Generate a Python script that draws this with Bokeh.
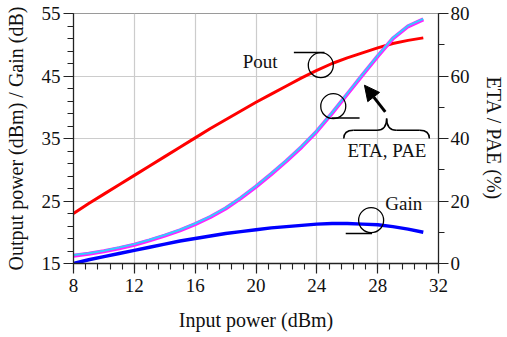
from bokeh.plotting import figure
from bokeh.models import (Range1d, LinearAxis, FixedTicker, Arrow, NormalHead,
                          Label, ColumnDataSource)
from bokeh.embed import file_html
from bokeh.resources import INLINE

# ---- data ----
pin = [8, 9, 10, 11, 12, 13, 14, 15, 16, 17, 18, 19, 20, 21, 22, 23, 24, 25, 26, 27, 28, 29, 30, 31]
pout = [23.0, 24.6, 26.1, 27.6, 29.1, 30.6, 32.1, 33.6, 35.1, 36.6, 38.0, 39.4, 40.8, 42.1, 43.4, 44.7,
        45.9, 47.0, 47.9, 48.7, 49.5, 50.2, 50.7, 51.1]
gain = [15.0, 15.6, 16.1, 16.6, 17.1, 17.6, 18.1, 18.6, 19.0, 19.4, 19.8, 20.1, 20.4, 20.7, 20.9, 21.1,
        21.3, 21.4, 21.4, 21.3, 21.2, 20.9, 20.5, 20.0]
eta = [2.7, 3.3, 4.1, 5.1, 6.2, 7.6, 9.1, 10.8, 12.8, 15.1, 17.8, 21.1, 24.8, 28.8, 33.0, 37.5,
       42.5, 48.3, 54.4, 60.5, 66.5, 72.2, 76.1, 78.3]
pae = [2.5, 3.1, 3.9, 4.9, 6.0, 7.4, 8.9, 10.6, 12.6, 14.9, 17.6, 20.9, 24.6, 28.6, 32.8, 37.3,
       42.3, 48.1, 54.2, 60.3, 66.3, 72.0, 75.9, 78.1]

x_ticks = [8, 12, 16, 20, 24, 28, 32]
y_ticks = [15, 25, 35, 45, 55]
r_ticks = [0, 20, 40, 60, 80]

FONT = "Liberation Serif"

p = figure(width=507, height=337, output_backend="svg", toolbar_location=None,
           x_range=Range1d(8, 32), y_range=Range1d(15, 55))
p.extra_y_ranges = {"pct": Range1d(0, 80)}
p.min_border_left = 73
p.min_border_right = 64
p.min_border_top = 13
p.min_border_bottom = 74
p.outline_line_color = "#9a9a9a"
p.outline_line_width = 1
p.background_fill_color = "white"
p.border_fill_color = "white"

# axes
p.xaxis.ticker = FixedTicker(ticks=x_ticks, minor_ticks=[8 + 0.8 * i for i in range(31)])
p.yaxis.ticker = FixedTicker(ticks=y_ticks, minor_ticks=list(range(15, 56, 2)))
right = LinearAxis(y_range_name="pct", ticker=FixedTicker(ticks=r_ticks, minor_ticks=list(range(0, 81, 10))))
p.add_layout(right, "right")

p.xaxis.axis_label = "Input power (dBm)"
p.yaxis.axis_label = "Output power (dBm) / Gain (dB)"
right.axis_label = "ETA / PAE (%)"

for ax in [p.xaxis[0], p.yaxis[0], right]:
    ax.axis_line_color = "#222222"
    ax.axis_line_width = 1.3
    ax.major_tick_line_color = "#222222"
    ax.minor_tick_line_color = "#222222"
    ax.major_tick_line_width = 1.2
    ax.minor_tick_line_width = 1.1
    ax.major_tick_in = 0
    ax.major_tick_out = 10
    ax.minor_tick_in = 0
    ax.minor_tick_out = 6
    ax.major_label_text_font = FONT
    ax.major_label_text_font_size = "19px"
    ax.major_label_text_color = "#111111"
    ax.axis_label_text_font = FONT
    ax.axis_label_text_font_size = "20px"
    ax.axis_label_text_font_style = "normal"
    ax.axis_label_text_color = "#111111"

p.xaxis.major_label_standoff = 5
p.xaxis.axis_label_standoff = 14
p.yaxis.major_label_standoff = 3
p.yaxis.axis_label_standoff = 12
right.major_label_standoff = 2
right.axis_label_standoff = 10

p.xgrid.ticker = FixedTicker(ticks=x_ticks)
p.ygrid.ticker = FixedTicker(ticks=y_ticks)
p.xgrid.grid_line_color = "#cccccc"
p.ygrid.grid_line_color = "#cccccc"
p.xgrid.grid_line_width = 1.2
p.ygrid.grid_line_width = 1.2

# series
src = ColumnDataSource(dict(pin=pin, pout=pout, gain=gain, eta=eta, pae=pae))
p.line("pin", "pout", source=src, line_color="#ff0000", line_width=3)
p.line("pin", "gain", source=src, line_color="#0000ff", line_width=3.5)
p.line("pin", "pae", source=src, line_color="#ff22ff", line_width=4, y_range_name="pct")
p.line("pin", "eta", source=src, line_color="#33ccff", line_width=2, y_range_name="pct")

# annotations (circles + leaders)
circ_x = [24.26, 25.08, 27.57]
circ_y = [46.73, 40.17, 21.93]
p.scatter(circ_x, circ_y, marker="circle", size=25, fill_color=None,
          line_color="black", line_width=1.3)
p.multi_line(xs=[[22.49, 24.5], [24.97, 26.81], [25.9, 27.63]],
             ys=[[48.76, 48.76], [38.3, 38.3], [19.8, 19.8]],
             line_color="black", line_width=1.5)

# curly brace under the arrow
p.quadratic(x0=[25.77, 27.96, 28.59, 30.77], y0=[35.0, 36.33, 38.2, 36.33],
            x1=[26.40, 28.59, 29.22, 31.40], y1=[36.33, 38.2, 36.33, 35.0],
            cx=[25.77, 28.59, 28.59, 31.40], cy=[36.33, 36.33, 36.33, 36.33],
            line_color="black", line_width=1.5)
p.segment(x0=[26.40, 29.22], y0=[36.33, 36.33], x1=[27.96, 30.77], y1=[36.33, 36.33],
          line_color="black", line_width=1.5)

p.add_layout(Arrow(end=NormalHead(size=15, fill_color="black", line_color="black"),
                   x_start=28.50, y_start=39.26, x_end=27.13, y_end=43.53,
                   line_color="black", line_width=3))

for txt, x, y, align in [("Pout", 19.13, 47.26, "left"), ("Gain", 28.5, 24.6, "left"),
                         ("ETA, PAE", 28.61, 33.13, "center")]:
    p.add_layout(Label(x=x, y=y, text=txt, text_align=align, text_baseline="middle",
                       text_font=FONT, text_font_size="19px", text_color="#111111"))

open("out.html", "w").write(file_html(p, INLINE))
